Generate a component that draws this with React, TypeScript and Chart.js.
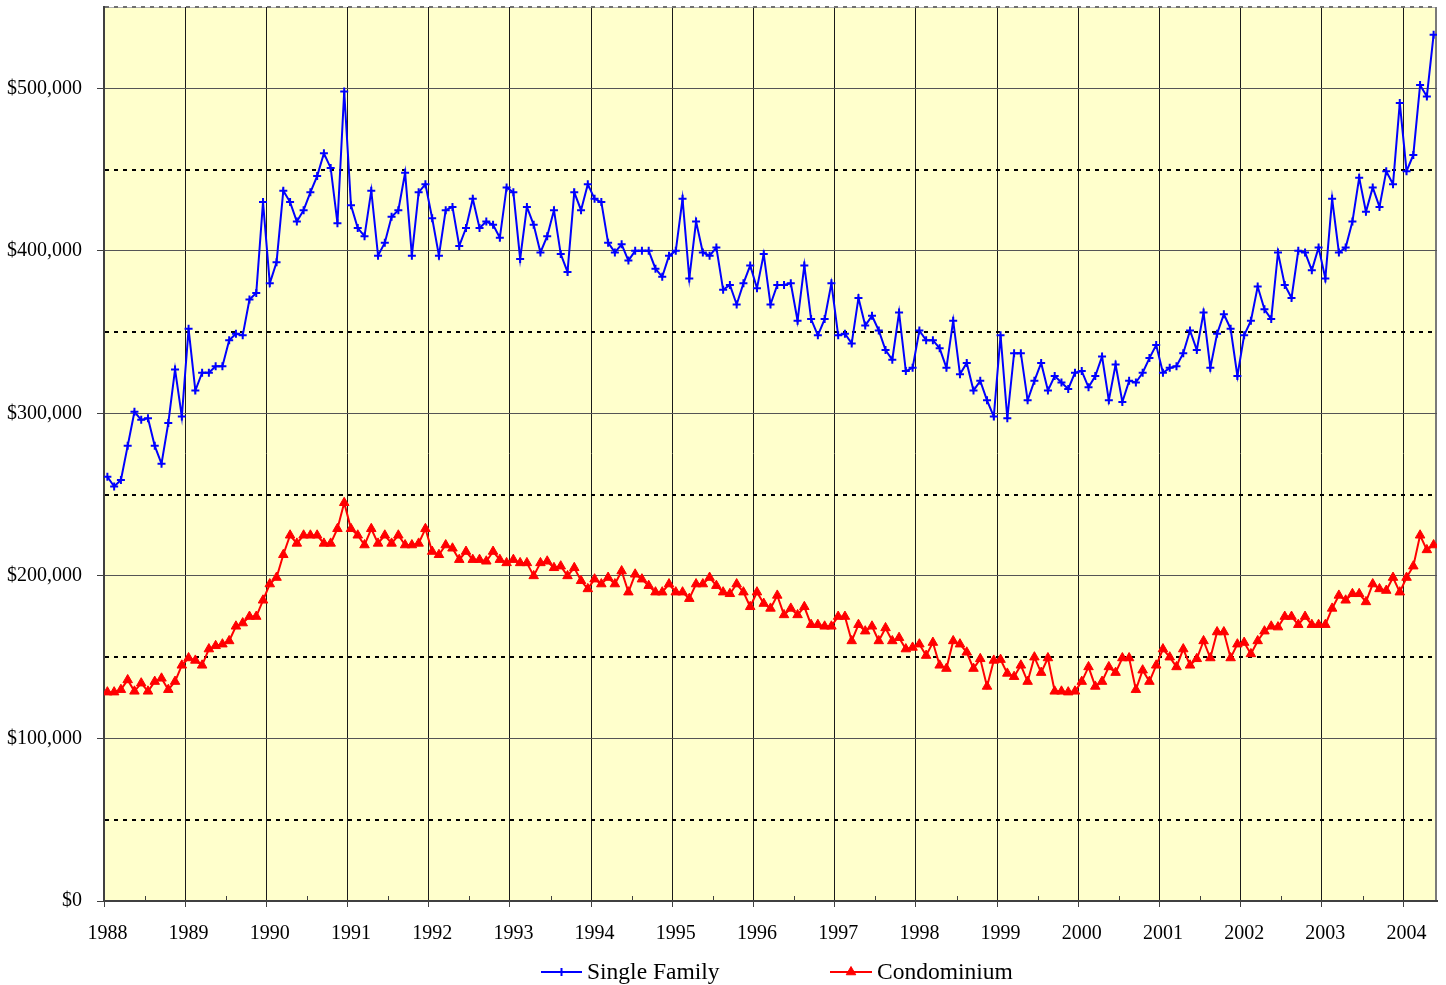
import React, { useEffect, useRef } from 'react';
import { Chart, registerables } from 'chart.js';

Chart.register(...registerables);

// ---------- data ----------
const yearLabels = [
  '1988', '1989', '1990', '1991', '1992', '1993', '1994', '1995', '1996',
  '1997', '1998', '1999', '2000', '2001', '2002', '2003', '2004',
];

const seriesNames = ['Single Family', 'Condominium'];

// monthly median prices, Jan 1988 .. May 2004 (thousands of dollars)
const singleFamilyK = [
  261, 255, 259, 280, 301, 296, 297, 280, 269, 294, 327, 298,
  352, 314, 325, 325, 329, 329, 345, 349, 348, 370, 374, 430,
  380, 393, 437, 430, 418, 425, 436, 446, 460, 451, 417, 498,
  428, 414, 409, 437, 397, 405, 421, 425, 448, 397, 436, 441,
  420, 397, 425, 427, 403, 414, 432, 414, 418, 416, 408, 439,
  436, 395, 427, 416, 399, 409, 425, 398, 387, 436, 425, 441,
  432, 430, 405, 399, 404, 394, 400, 400, 400, 389, 384, 397,
  400, 432, 383, 418, 399, 397, 402, 376, 379, 367, 380, 391,
  377, 398, 367, 379, 379, 380, 357, 391, 358, 348, 358, 380,
  348, 349, 343, 371, 354, 360, 351, 339, 333, 362, 326, 328,
  351, 345, 345, 340, 328, 357, 324, 331, 314, 320, 308, 298,
  348, 297, 337, 337, 308, 320, 331, 314, 323, 319, 315, 325,
  326, 316, 323, 335, 308, 330, 307, 320, 319, 325, 334, 342,
  325, 328, 329, 337, 351, 339, 362, 328, 349, 361, 352, 323,
  348, 357, 378, 364, 358, 399, 379, 371, 400, 399, 388, 402,
  383, 432, 399, 402, 418, 445, 424, 439, 427, 449, 441, 491,
  449, 459, 502, 495, 533,
];

const condominiumK = [
  128.5, 128.5, 130, 136, 129, 134, 129, 135, 137, 130, 135, 145,
  149.5, 148, 145, 155, 157, 158, 160, 169, 171, 175, 175, 185,
  195, 199, 213, 225, 220, 225, 225, 225, 220, 220, 229, 245,
  229, 225, 219, 229, 220, 225, 220, 225, 219, 219, 220, 229,
  215, 213, 219, 217, 210, 215, 210, 210, 209, 215, 210, 208,
  210, 208, 208, 200, 208, 209, 205, 206, 200, 205, 197, 192,
  198, 195, 199, 195, 203, 190, 201, 198, 194, 190, 190, 195,
  190, 190, 186, 195, 195, 199, 194, 190, 189, 195, 190, 181,
  190, 183, 180, 188, 176, 180, 176, 181, 170, 170, 169, 169,
  175, 175, 160, 170, 166, 169, 160, 168, 160, 162, 155, 156,
  158, 151, 159, 145, 143, 160, 158, 153, 143, 149, 132, 148,
  148.5, 140, 138, 145, 135, 150, 140.5, 149.5, 129, 129, 128.5, 129,
  135, 144, 132, 135, 144, 140.5, 149.5, 149.5, 130, 142, 135, 145,
  155, 150, 144, 155, 145, 149, 160, 149.5, 165.5, 165.5, 149.5, 158,
  159, 152, 160, 166, 169, 168.5, 175, 175, 170, 175, 170, 170,
  170, 180, 188, 185, 189, 189, 184, 195, 192, 191, 199, 190,
  199, 206, 225, 216, 219,
];

const singleFamily = singleFamilyK.map((v) => v * 1000);
const condominium = condominiumK.map((v) => v * 1000);

// ---------- styling ----------
const FONT = "'Liberation Serif', 'Times New Roman', Times, serif";
const BLUE = '#0000FF';
const RED = '#FF0000';
const PLOT_BG = '#FFFFCC';
const AXIS = '#404040';
const VGRID = '#1a1a1a';
const HGRID = '#555555';
const Y_MAX = 550000;

const legendLayout = [
  { lineX: 541, lineW: 41, textX: 587, color: BLUE, marker: 'cross' },
  { lineX: 830, lineW: 42, textX: 877, color: RED, marker: 'triangle' },
];
const LEGEND_Y = 972;

function drawMarker(ctx: CanvasRenderingContext2D, kind: string, x: number, y: number, color: string) {
  ctx.save();
  ctx.strokeStyle = color;
  ctx.fillStyle = color;
  if (kind === 'cross') {
    ctx.lineWidth = 2;
    ctx.beginPath();
    ctx.moveTo(x - 4, y);
    ctx.lineTo(x + 4, y);
    ctx.moveTo(x, y - 4);
    ctx.lineTo(x, y + 4);
    ctx.stroke();
  } else {
    const r = 5.5;
    ctx.lineWidth = 1;
    ctx.beginPath();
    for (let k = 0; k < 3; k++) {
      const a = (k * 2 * Math.PI) / 3;
      const px = x + Math.sin(a) * r;
      const py = y - Math.cos(a) * r;
      if (k === 0) ctx.moveTo(px, py);
      else ctx.lineTo(px, py);
    }
    ctx.closePath();
    ctx.fill();
    ctx.stroke();
  }
  ctx.restore();
}

export default function App() {
  const canvasRef = useRef<HTMLCanvasElement | null>(null);

  useEffect(() => {
    const canvas = canvasRef.current;
    if (!canvas) return;
    const nMonths = singleFamily.length;
    const toPoints = (arr: number[]) => arr.map((v, i) => ({ x: i + 0.5, y: v }));

    const framePlugin = {
      id: 'frameAndLegend',
      beforeDraw(chart: any) {
        const { ctx, chartArea: a } = chart;
        ctx.save();
        ctx.fillStyle = PLOT_BG;
        ctx.fillRect(a.left, a.top, a.right - a.left, a.bottom - a.top);
        ctx.strokeStyle = '#b0b0b0';
        ctx.lineWidth = 1;
        ctx.beginPath();
        ctx.moveTo(a.left, Math.round(a.top) + 0.5);
        ctx.lineTo(a.right, Math.round(a.top) + 0.5);
        ctx.stroke();
        ctx.strokeStyle = '#7a7a7a';
        ctx.lineWidth = 2;
        ctx.beginPath();
        ctx.moveTo(Math.round(a.right) - 1, a.top);
        ctx.lineTo(Math.round(a.right) - 1, a.bottom);
        ctx.stroke();
        ctx.restore();
      },
      afterDraw(chart: any) {
        const { ctx, chartArea: a, scales } = chart;
        const xs = scales.x;
        // minor (half-year) tick marks pointing into the plot
        ctx.save();
        ctx.strokeStyle = AXIS;
        ctx.lineWidth = 1;
        ctx.beginPath();
        for (let v = 6; v < nMonths; v += 12) {
          const px = Math.round(xs.getPixelForValue(v)) + 0.5;
          ctx.moveTo(px, a.bottom);
          ctx.lineTo(px, a.bottom - 5);
        }
        ctx.stroke();
        ctx.restore();

        // legend
        ctx.save();
        ctx.font = `23.5px ${FONT}`;
        ctx.textBaseline = 'middle';
        ctx.textAlign = 'left';
        legendLayout.forEach((item, i) => {
          ctx.strokeStyle = item.color;
          ctx.lineWidth = 2;
          ctx.beginPath();
          ctx.moveTo(item.lineX, LEGEND_Y);
          ctx.lineTo(item.lineX + item.lineW, LEGEND_Y);
          ctx.stroke();
          drawMarker(ctx, item.marker, item.lineX + item.lineW / 2, LEGEND_Y, item.color);
          ctx.fillStyle = '#000';
          ctx.fillText(seriesNames[i], item.textX, LEGEND_Y + 1);
        });
        ctx.restore();
      },
    };

    const isMinor = (c: any) => c.tick && c.tick.value % 100000 !== 0;

    const chart = new Chart(canvas, {
      type: 'line',
      data: {
        datasets: [
          {
            label: seriesNames[0],
            data: toPoints(singleFamily),
            borderColor: BLUE,
            backgroundColor: BLUE,
            borderWidth: 2,
            pointStyle: 'cross',
            pointRadius: 4,
            pointBorderWidth: 2,
            pointBorderColor: BLUE,
            pointBackgroundColor: BLUE,
            tension: 0,
            fill: false,
          },
          {
            label: seriesNames[1],
            data: toPoints(condominium),
            borderColor: RED,
            backgroundColor: RED,
            borderWidth: 2,
            pointStyle: 'triangle',
            pointRadius: 5.5,
            pointBorderWidth: 1,
            pointBorderColor: RED,
            pointBackgroundColor: RED,
            tension: 0,
            fill: false,
          },
        ],
      },
      options: {
        animation: false,
        responsive: true,
        maintainAspectRatio: false,
        events: [],
        layout: { padding: { left: 0, right: 9, top: 7, bottom: 0 } },
        plugins: {
          legend: { display: false },
          tooltip: { enabled: false },
          title: { display: false },
        },
        scales: {
          x: {
            type: 'linear',
            min: 0,
            max: nMonths,
            ticks: {
              stepSize: 12,
              includeBounds: false,
              autoSkip: false,
              maxRotation: 0,
              labelOffset: 3.4,
              padding: 15,
              color: '#000',
              font: { family: FONT, size: 20 },
              callback: (v: any) => {
                const idx = Math.round(Number(v) / 12);
                return Number(v) % 12 === 0 && yearLabels[idx] ? yearLabels[idx] : '';
              },
            },
            grid: {
              color: VGRID,
              lineWidth: 1,
              tickLength: 6,
              tickColor: AXIS,
              tickWidth: 1,
            },
            border: { color: AXIS, width: 2 },
            afterFit: (s: any) => {
              s.height = 84;
              s.paddingLeft = 0;
              s.paddingRight = 0;
            },
          },
          y: {
            type: 'linear',
            min: 0,
            max: Y_MAX,
            ticks: {
              stepSize: 50000,
              autoSkip: false,
              padding: 15,
              color: '#000',
              font: { family: FONT, size: 20 },
              callback: (v: any) =>
                Number(v) % 100000 === 0 ? '$' + Number(v).toLocaleString('en-US') : '',
            },
            grid: {
              color: (c: any) =>
                c.tick && c.tick.value === Y_MAX ? '#707070' : isMinor(c) ? '#000000' : HGRID,
              lineWidth: (c: any) => (isMinor(c) ? 2 : 1),
              tickLength: 7,
              tickWidth: 1,
              tickColor: (c: any) => (isMinor(c) ? 'rgba(0,0,0,0)' : AXIS),
            },
            border: {
              color: AXIS,
              width: 2,
              dash: (c: any) => (isMinor(c) ? [4, 5] : []),
            },
            afterFit: (s: any) => {
              s.width = 104;
              s.paddingTop = 0;
              s.paddingBottom = 0;
            },
          },
        },
      },
      plugins: [framePlugin],
    } as any);

    return () => {
      chart.destroy();
    };
  }, []);

  return (
    <div style={{ position: 'absolute', left: 0, top: 0, width: 1446, height: 985 }}>
      <canvas ref={canvasRef} />
    </div>
  );
}
